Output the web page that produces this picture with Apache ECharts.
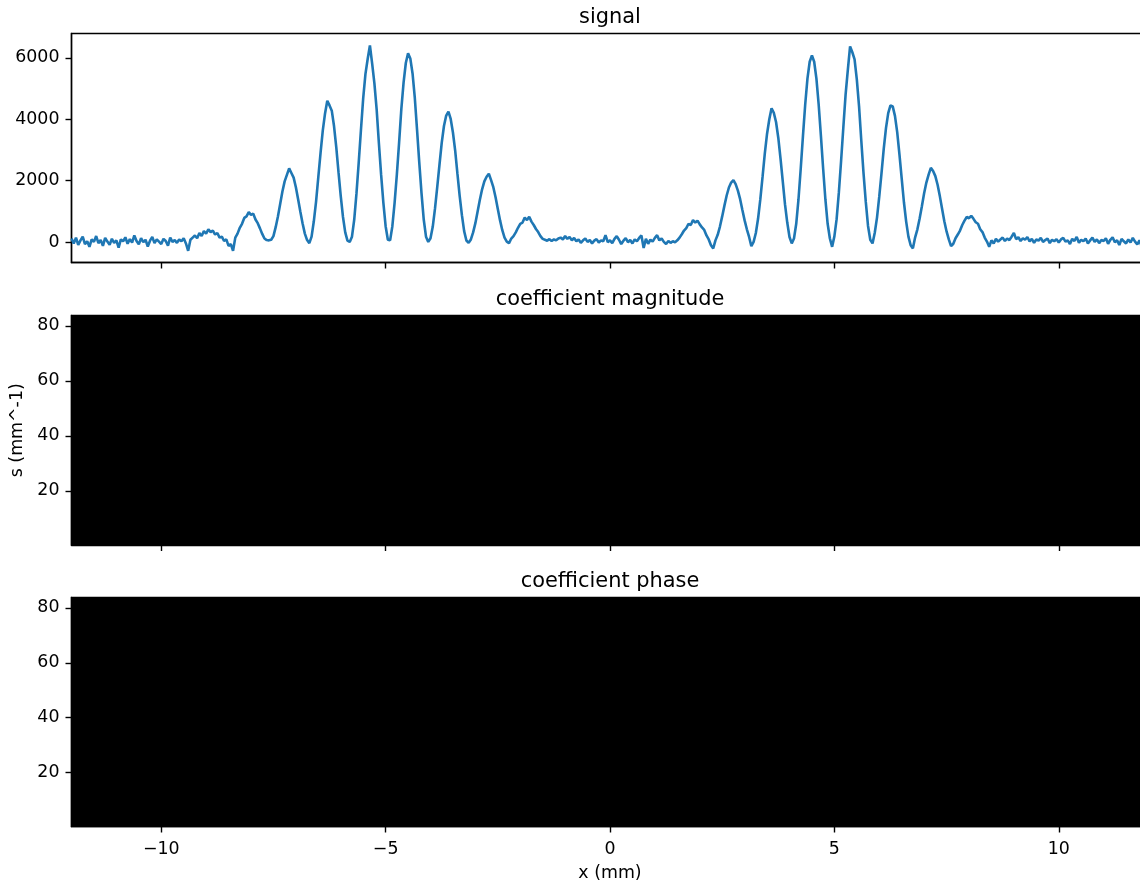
<!DOCTYPE html>
<html>
<head>
<meta charset="utf-8">
<script src="https://cdn.jsdelivr.net/npm/echarts@6/dist/echarts.min.js"></script>
<style>
html,body{margin:0;padding:0;background:#fff;}
#chart{width:1140px;height:883px;}
</style>
</head>
<body>
<div id="chart"></div>
<script>
// ---- data ----
const panelTitles = ['signal', 'coefficient magnitude', 'coefficient phase'];
const xTicks = [-10, -5, 0, 5, 10];
const signalTicks = [0, 2000, 4000, 6000];
const sTicks = [20, 40, 60, 80];
// signal sampled every 0.05 mm starting at -12 mm (rows = 1 mm each)
const signalStart = -12;
const signalStep = 0.05;
const signalValues = [
  120, -40, 150, -90, 60, 180, -60, 30, -150, 90, 10, 200, -30, 70, -120, 140, 20, -80, 110, -20,
  60, -180, 90, 30, 160, -50, 100, -10, 220, 40, -70, 130, 0, 80, -140, 50, 170, -30, 90, 20,
  -60, 110, 40, -110, 150, 10, 70, -20, 90, 30, 130, -40, -280, 80, 150, 220, 130, 300, 200, 360,
  280, 420, 330, 380, 250, 300, 150, 180, 40, 90, -120, -60, -280, 150, 280, 470, 600, 790, 840, 980,
  890, 930, 740, 620, 450, 270, 120, 70, 60, 80, 200, 490, 840, 1240, 1650, 1980, 2190, 2400, 2250, 2100,
  1790, 1400, 990, 610, 280, 70, -30, 180, 680, 1320, 2120, 2910, 3640, 4190, 4600, 4450, 4280, 3780, 3090, 2280,
  1500, 820, 320, 50, 10, 180, 730, 1580, 2580, 3650, 4680, 5470, 5960, 6400, 5810, 5170, 4320, 3220, 2190, 1280,
  520, 80, 60, 520, 1280, 2200, 3230, 4330, 5190, 5830, 6150, 5980, 5490, 4700, 3660, 2590, 1590, 730, 180, 10,
  130, 500, 1090, 1790, 2520, 3230, 3780, 4120, 4250, 4010, 3570, 2980, 2230, 1510, 880, 360, 55, -20, 90, 320,
  620, 1000, 1380, 1720, 1980, 2130, 2230, 2020, 1790, 1460, 1080, 710, 390, 150, 20, -30, 120, 200, 320, 470,
  600, 640, 800, 720, 830, 670, 560, 430, 330, 200, 110, 80, 50, 100, 40, 90, 60, 120, 150, 90,
  200, 110, 170, 60, 140, 30, 90, -20, 60, 120, 10, 70, -40, 50, 100, -10, 60, 30, 230, 0,
  60, -30, 110, 200, 80, -60, 50, 130, 0, 70, -40, 90, 30, 140, 220, -190, 110, -50, 80, 20,
  140, 230, 60, 120, 10, -60, 40, -20, 30, 0, 60, 150, 260, 380, 460, 600, 560, 720, 640, 700,
  580, 480, 400, 220, 90, -100, -200, 60, 240, 510, 840, 1190, 1520, 1780, 1940, 2020, 1890, 1680, 1400, 1050,
  710, 420, 170, -130, 10, 300, 770, 1400, 2130, 2890, 3530, 4000, 4360, 4210, 3910, 3400, 2720, 1980, 1230, 640,
  170, -40, 120, 600, 1390, 2390, 3460, 4480, 5320, 5870, 6080, 5870, 5320, 4480, 3460, 2390, 1390, 600, 120, -150,
  190, 750, 1620, 2650, 3740, 4800, 5610, 6370, 6180, 5950, 5300, 4420, 3300, 2240, 1310, 530, 80, -40, 310, 800,
  1480, 2240, 3040, 3710, 4200, 4450, 4420, 4110, 3580, 2860, 2080, 1300, 670, 180, -100, -200, 160, 420, 770, 1170,
  1590, 1940, 2200, 2420, 2320, 2150, 1870, 1500, 1090, 680, 350, 90, -130, -50, 130, 250, 380, 560, 700, 820,
  780, 860, 760, 650, 600, 420, 330, 150, 20, -150, 60, -40, 110, 20, 90, 150, 40, 120, 70, 180,
  300, 100, 160, 40, 130, 80, 170, 30, 110, -20, 90, 50, 140, 10, 70, 120, -30, 80, 30, 100,
  -10, 90, 140, 20, 60, -60, 110, 40, 170, -20, 80, 30, 120, -40, 60, 150, 10, 90, -30, 70,
  40, 130, -50, 80, 160, 0, 60, -90, 110, 30, -40, 90, -10, 140, 20, -70, 60, -150, 30, -60,
  -20
];
// image cells: [x0, x1, s0, s1, value] (all black in the picture)
const magnitudeCells = [[-12, 12, 0.3, 83.8, 0]];
const phaseCells = [[-12, 12, 0.3, 83.8, 0]];

// ---- build ----
const signalData = signalValues.map((v, i) => [signalStart + i * signalStep, v]);

const FONT = 'DejaVu Sans';
const gridL = 71.5, gridW = 1077;
const grids = [
  {left: gridL, top: 33.5, width: gridW, height: 229},
  {left: gridL, top: 315.5, width: gridW, height: 229.5},
  {left: gridL, top: 597.5, width: gridW, height: 229}
].map(g => Object.assign(g, {show: true, borderColor: '#000', borderWidth: 1.4, backgroundColor: 'transparent',
  containLabel: false, outerBoundsMode: 'none'}));

const minus = v => String(v).replace('-', '\u2212');

const xAxes = [0, 1, 2].map(i => ({
  type: 'value', gridIndex: i, min: -12, max: 12,
  axisLine: {show: true, onZero: false, lineStyle: {color: '#000', width: 1.4}},
  axisTick: {show: true, length: 6, customValues: xTicks, lineStyle: {color: '#000', width: 1.4}},
  axisLabel: {show: i === 2, customValues: xTicks, margin: 14, fontSize: 17.4, fontFamily: FONT, color: '#000', formatter: minus},
  splitLine: {show: false},
  name: i === 2 ? 'x (mm)' : '', nameLocation: 'middle', nameGap: 38,
  nameTextStyle: {fontSize: 17.4, fontFamily: FONT, color: '#000'}
}));

const yAxisBase = {
  type: 'value',
  axisLine: {show: true, onZero: false, lineStyle: {color: '#000', width: 1.4}},
  splitLine: {show: false},
  nameTextStyle: {fontSize: 17.4, fontFamily: FONT, color: '#000'}
};
const yAxes = [
  Object.assign({}, yAxisBase, {
    gridIndex: 0, min: -660, max: 6790,
    axisTick: {show: true, length: 6, customValues: signalTicks, lineStyle: {color: '#000', width: 1.4}},
    axisLabel: {customValues: signalTicks, margin: 12, fontSize: 17.4, fontFamily: FONT, color: '#000', formatter: v => String(v)}
  }),
  Object.assign({}, yAxisBase, {
    gridIndex: 1, min: 0.3, max: 83.8,
    axisTick: {show: true, length: 6, customValues: sTicks, lineStyle: {color: '#000', width: 1.4}},
    axisLabel: {customValues: sTicks, margin: 12, fontSize: 17.4, fontFamily: FONT, color: '#000', formatter: v => String(v)},
    name: 's (mm^-1)', nameLocation: 'middle', nameGap: 41
  }),
  Object.assign({}, yAxisBase, {
    gridIndex: 2, min: 0.3, max: 83.8,
    axisTick: {show: true, length: 6, customValues: sTicks, lineStyle: {color: '#000', width: 1.4}},
    axisLabel: {customValues: sTicks, margin: 12, fontSize: 17.4, fontFamily: FONT, color: '#000', formatter: v => String(v)}
  })
];

const titleTops = [7.5, 289.5, 571.5];
const titles = panelTitles.map((t, i) => ({
  text: t, left: 610, top: titleTops[i], textAlign: 'center', padding: 0,
  textStyle: {fontSize: 20.9, fontWeight: 'normal', fontFamily: FONT, color: '#000'}
}));

function cellRender(params, api) {
  const p0 = api.coord([api.value(0), api.value(3)]);
  const p1 = api.coord([api.value(1), api.value(2)]);
  return {
    type: 'rect',
    shape: {x: p0[0], y: p0[1], width: p1[0] - p0[0], height: p1[1] - p0[1]},
    style: {fill: api.visual('color')}
  };
}

const option = {
  animation: false,
  backgroundColor: '#fff',
  textStyle: {fontFamily: FONT},
  title: titles,
  grid: grids,
  xAxis: xAxes,
  yAxis: yAxes,
  visualMap: {
    type: 'continuous', show: false, seriesIndex: [1, 2], dimension: 4,
    min: 0, max: 1, inRange: {color: ['#000000', '#ffffff']}
  },
  series: [
    {
      type: 'line', xAxisIndex: 0, yAxisIndex: 0, data: signalData,
      showSymbol: false, symbol: 'none', clip: true,
      lineStyle: {color: '#1f77b4', width: 2.6}, itemStyle: {color: '#1f77b4'}
    },
    {
      type: 'custom', xAxisIndex: 1, yAxisIndex: 1, data: magnitudeCells, clip: true,
      encode: {x: [0, 1], y: [2, 3]}, renderItem: cellRender
    },
    {
      type: 'custom', xAxisIndex: 2, yAxisIndex: 2, data: phaseCells, clip: true,
      encode: {x: [0, 1], y: [2, 3]}, renderItem: cellRender
    }
  ]
};

const chart = echarts.init(document.getElementById('chart'), null, {renderer: 'canvas'});
chart.setOption(option);
</script>
</body>
</html>
